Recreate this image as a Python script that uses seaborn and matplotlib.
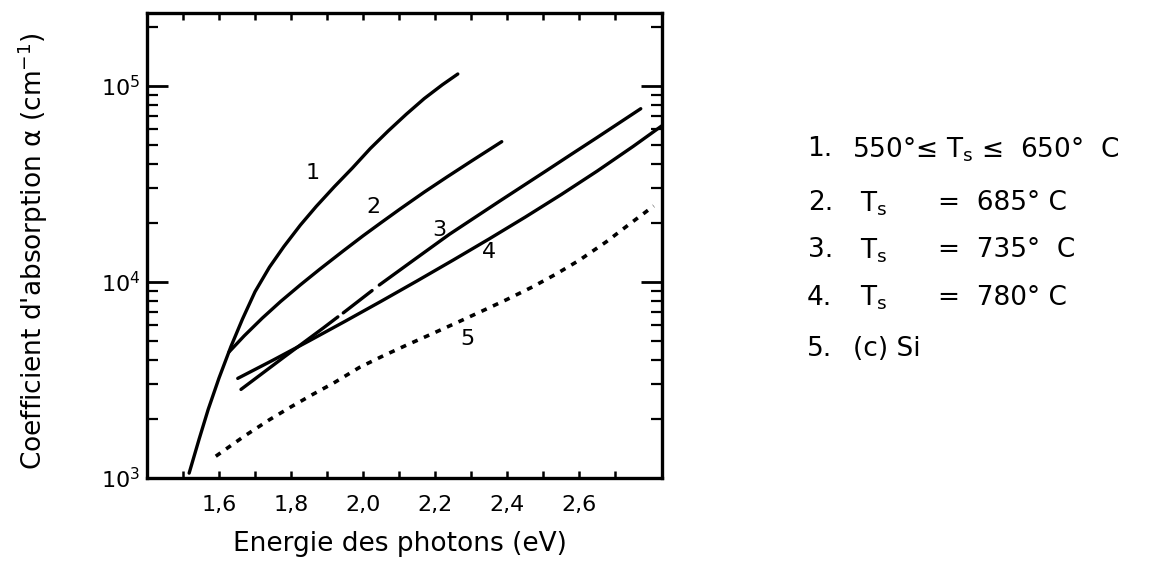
import numpy as np
import pandas as pd
import matplotlib
matplotlib.use("Agg")
import matplotlib.pyplot as plt
import seaborn as sns
from matplotlib.ticker import FixedLocator, LogLocator, NullFormatter

# ---------------- data ----------------
E1 = [1.517, 1.545, 1.570, 1.600, 1.633, 1.665, 1.700, 1.740, 1.780, 1.826,
      1.870, 1.920, 1.970, 2.020, 2.070, 2.120, 2.170, 2.220, 2.263]
A1 = [1059, 1585, 2239, 3236, 4677, 6457, 8913, 11885, 15136, 19498,
      24266, 30549, 38019, 47863, 58884, 71614, 86099, 101158, 114815]

E2 = [1.628, 1.670, 1.720, 1.771, 1.826, 1.880, 1.945, 2.000, 2.050, 2.103,
      2.170, 2.233, 2.300, 2.385]
A2 = [4395, 5309, 6531, 7943, 9661, 11614, 14388, 17179, 20045, 23550,
      28708, 34277, 41210, 51880]

E3 = [1.661, 1.780, 1.890, 1.930, 1.945, 2.025, 2.045, 2.140, 2.240, 2.379,
      2.509, 2.578, 2.650, 2.771]
A3 = [2830, 4130, 5830, 6630, 6950, 9030, 9640, 12900, 17500, 25800,
      36900, 44700, 54500, 76400]
SEG3 = [0, 0, 0, 0, 1, 1, 2, 2, 2, 2, 2, 2, 2, 2]

E4 = [1.652, 1.750, 1.850, 1.950, 2.050, 2.150, 2.250, 2.350, 2.450, 2.550,
      2.650, 2.750, 2.835]
A4 = [3221, 3990, 5000, 6295, 7962, 10116, 12912, 16558, 21380, 27861,
      36728, 49091, 63533]

E5 = [1.591, 1.669, 1.740, 1.799, 1.860, 1.918, 1.990, 2.056, 2.120, 2.185,
      2.260, 2.330, 2.398, 2.470, 2.536, 2.600, 2.675, 2.740, 2.807]
A5 = [1291, 1629, 1982, 2301, 2667, 3048, 3664, 4198, 4753, 5370,
      6194, 7096, 8110, 9419, 10965, 12882, 15996, 19724, 24378]

CURVE_LABELS = ["1", "2", "3", "4", "5"]
LABEL_E = [1.860, 2.028, 2.213, 2.351, 2.290]
LABEL_A = [36100, 24000, 18400, 14200, 5140]

XTICKS = [1.6, 1.8, 2.0, 2.2, 2.4, 2.6]
XTICKLABELS = ["1,6", "1,8", "2,0", "2,2", "2,4", "2,6"]
XMINOR = [1.5, 1.7, 1.9, 2.1, 2.3, 2.5, 2.7]

TS = r"$\mathregular{T_s}$"
LEGEND_LINES = [
    [("1.", 807), ("550°≤ " + TS + " ≤  650°  C", 852)],
    [("2.", 808), (TS, 860), ("=  685° C", 938)],
    [("3.", 808), (TS, 860), ("=  735°  C", 938)],
    [("4.", 807), (TS, 860), ("=  780° C", 938)],
    [("5.", 807), ("(c) Si", 853)],
]
LEG_Y = [146, 200, 247, 295, 346]

# ---------------- figure ----------------
sns.set_theme(style="ticks")
plt.rcParams["font.family"] = ["DejaVu Sans"]
plt.rcParams["mathtext.fontset"] = "dejavusans"
for k in ["text.color", "axes.labelcolor", "xtick.color", "ytick.color", "axes.edgecolor"]:
    plt.rcParams[k] = "black"

W, H = 1164, 571
fig = plt.figure(figsize=(W / 100, H / 100), dpi=100)
ax = fig.add_axes([147 / W, 1 - 478 / H, (662 - 147) / W, (478 - 13) / H])

lw = 2.4
for E, A in [(E1, A1), (E2, A2), (E4, A4)]:
    sns.lineplot(x=E, y=A, ax=ax, color="black", lw=lw, estimator=None, sort=False)

df3 = pd.DataFrame({"E": E3, "A": A3, "seg": SEG3})
sns.lineplot(data=df3, x="E", y="A", units="seg", estimator=None, sort=False,
             ax=ax, color="black", lw=lw)

sns.lineplot(x=E5, y=A5, ax=ax, color="black", lw=2.6, estimator=None, sort=False,
             linestyle=(0, (1.6, 1.9)))

for s, xe, ya in zip(CURVE_LABELS, LABEL_E, LABEL_A):
    ax.text(xe, ya, s, fontsize=16, ha="center", va="center", color="black")

ax.set_yscale("log")
ax.set_xlim(1.4, 2.83)
ax.set_ylim(1e3, 2.35e5)

ax.xaxis.set_major_locator(FixedLocator(XTICKS))
ax.set_xticklabels(XTICKLABELS)
ax.xaxis.set_minor_locator(FixedLocator(XMINOR))
ax.yaxis.set_major_locator(LogLocator(base=10))
ax.yaxis.set_minor_locator(LogLocator(base=10, subs=np.arange(2, 10)))
ax.yaxis.set_minor_formatter(NullFormatter())

ax.tick_params(axis="x", which="both", direction="in", length=5, width=1.8,
               top=True, pad=12, labelsize=16)
ax.tick_params(axis="y", which="major", direction="in", length=15, width=2,
               right=True, pad=5, labelsize=16)
ax.tick_params(axis="y", which="minor", direction="in", length=8, width=1.6,
               right=True)

for sp in ax.spines.values():
    sp.set_linewidth(2.4)
    sp.set_color("black")

ax.set_xlabel("Energie des photons (eV)", fontsize=19)
ax.set_ylabel("Coefficient d'absorption α (cm$^{-1}$)", fontsize=19)
ax.xaxis.set_label_coords((400 - 147) / 515, (477 - 530) / 465)
ax.yaxis.set_label_coords((50 - 147) / 515, (477 - 250) / 465)
ax.xaxis.label.set_va("top")

# legend text block on the right
for pieces, py in zip(LEGEND_LINES, LEG_Y):
    yy = 1 - py / H
    for s, px in pieces:
        fig.text(px / W, yy, s, fontsize=19, va="center_baseline", ha="left")

fig.savefig("out.png", dpi=100)
